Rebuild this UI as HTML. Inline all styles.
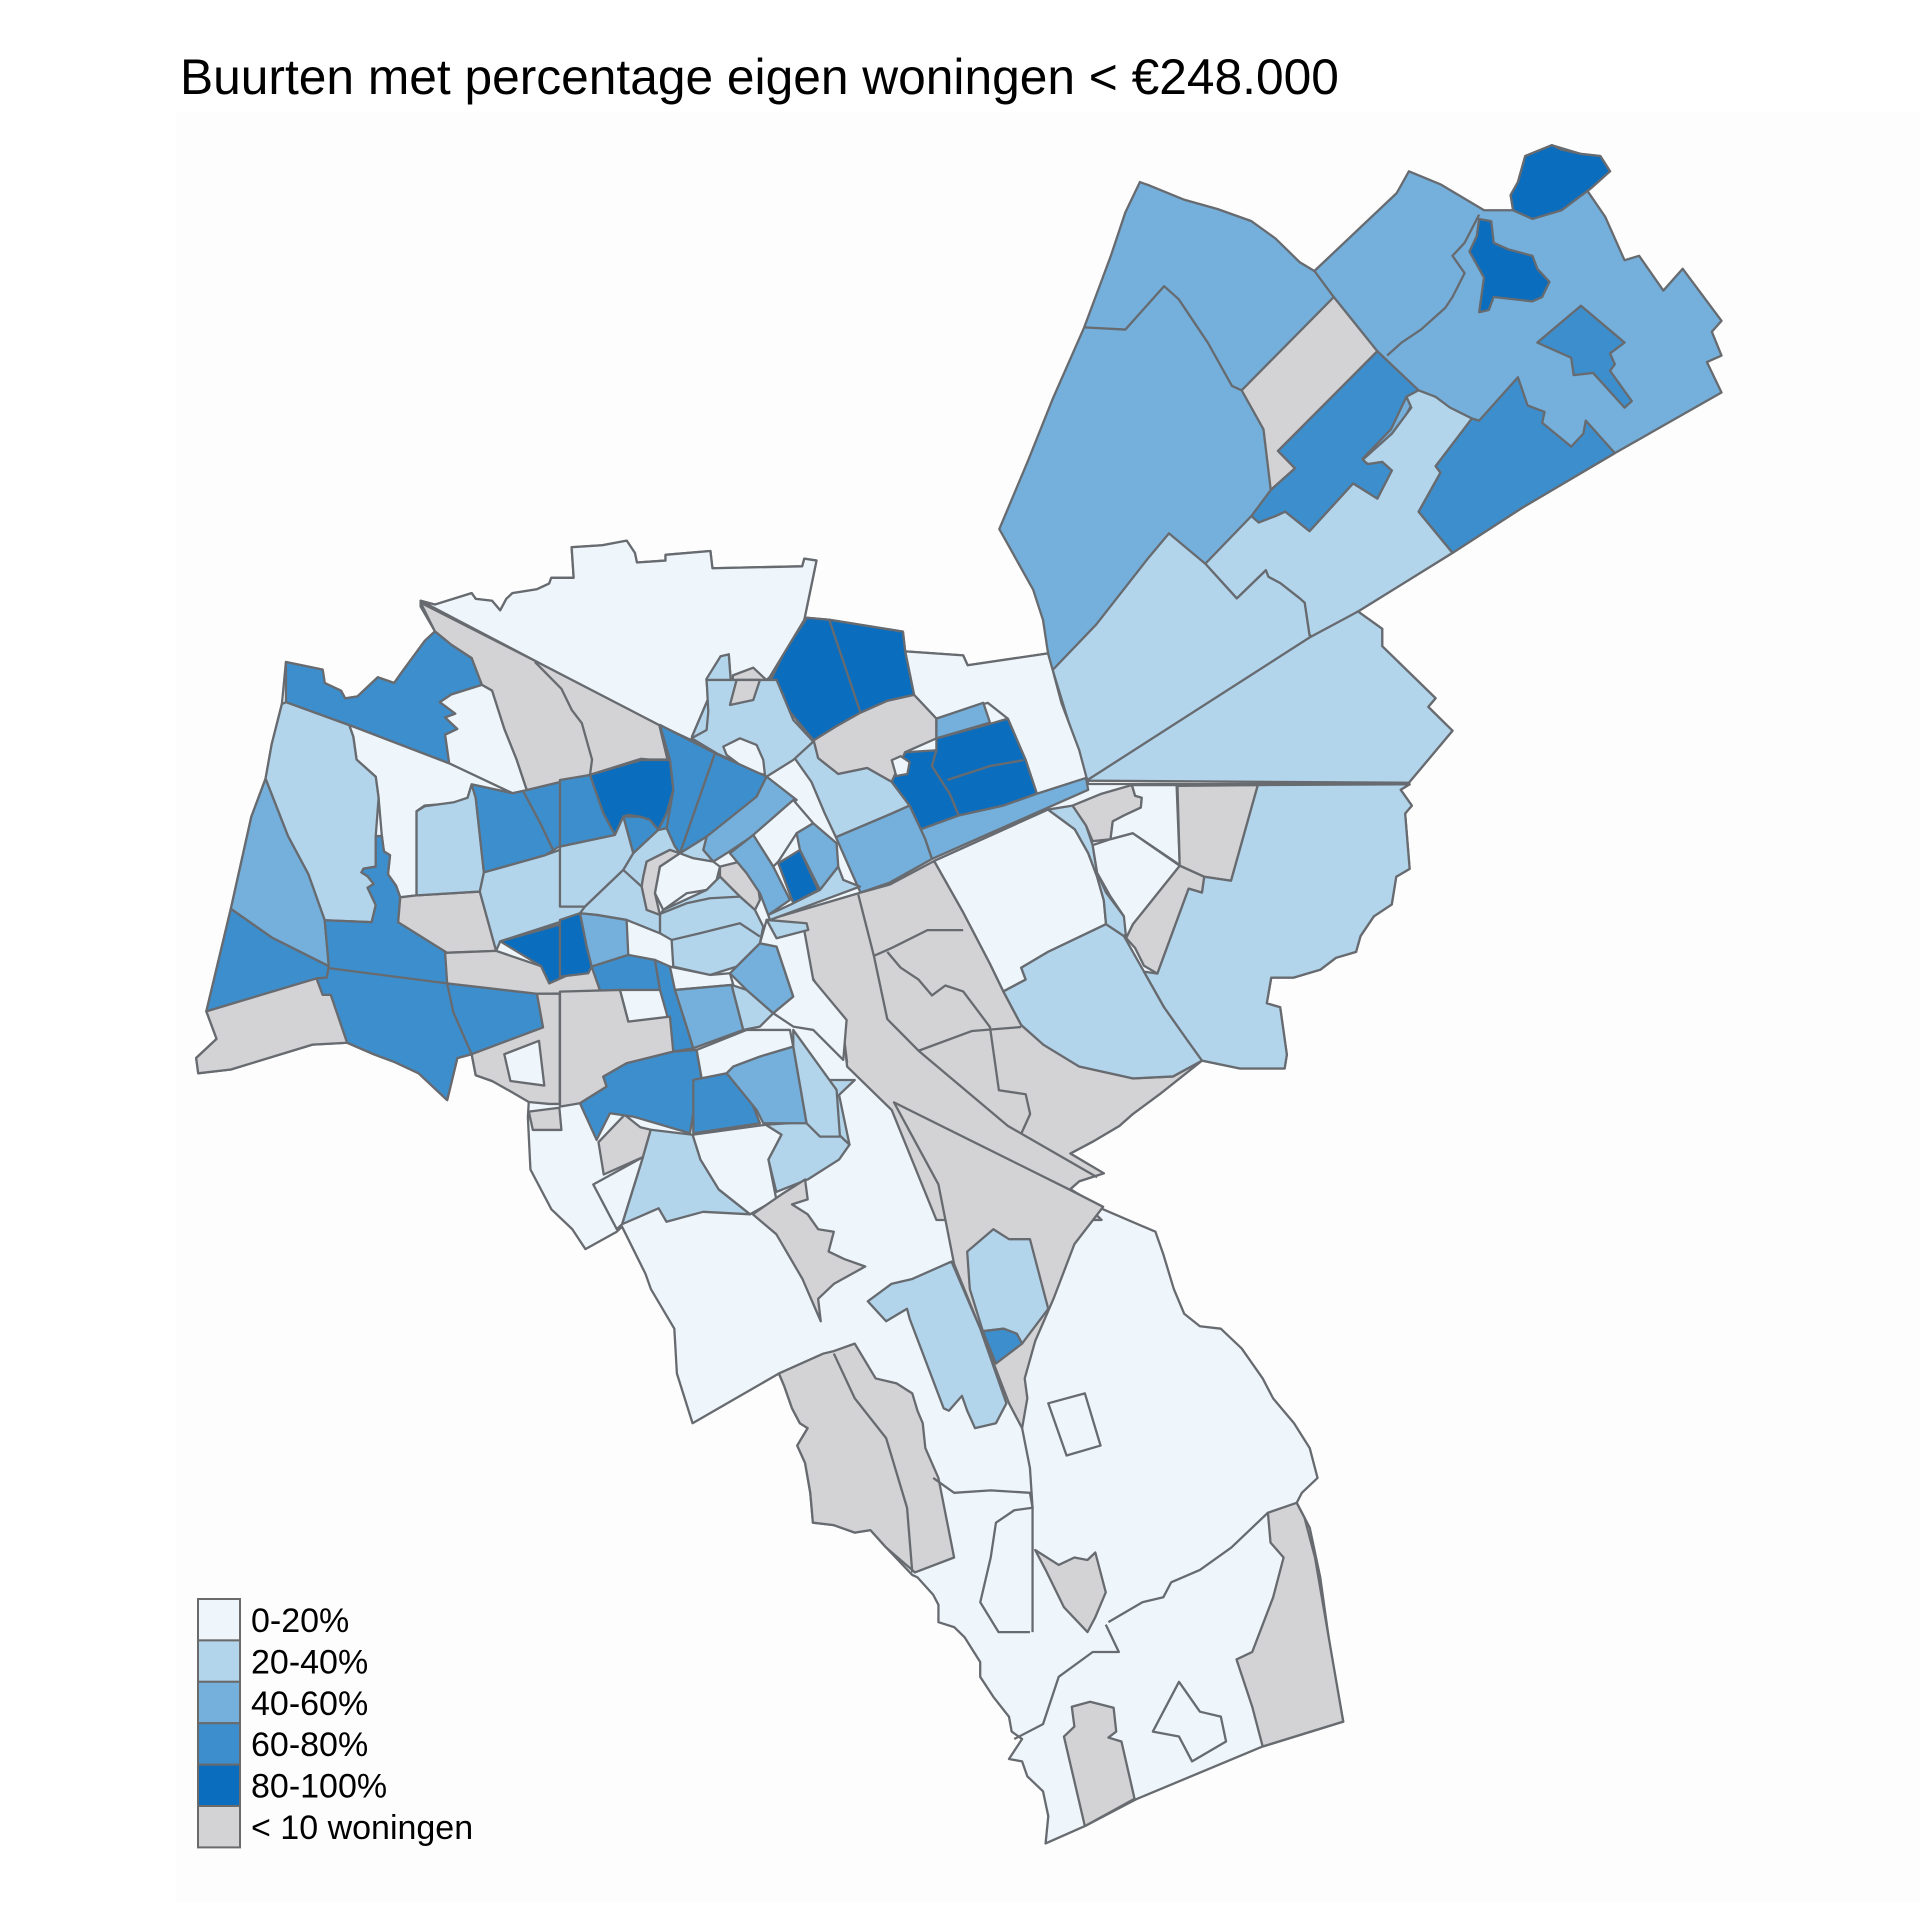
<!DOCTYPE html>
<html><head><meta charset="utf-8">
<style>
html,body{margin:0;padding:0;background:#fff;}
body{width:1920px;height:1920px;position:relative;overflow:hidden;}
svg{position:absolute;left:0;top:0;}
.m polygon,.m polyline{vector-effect:non-scaling-stroke;stroke:#676b70;stroke-width:2.3;stroke-linejoin:round;}
.m polyline{fill:none;}
.a{fill:#eef6fc}.b{fill:#b3d5ec}.c{fill:#74b0db}.d{fill:#3d8ecd}.e{fill:#0b6dbd}.g{fill:#d3d2d5}
</style></head><body>
<svg width="1920" height="1920" viewBox="0 0 1920 1920"><rect x="176" y="112" width="1744" height="1790" fill="#fdfdfd"/></svg>

<svg class="m" width="1920" height="1920" viewBox="0 0 1568 1568">
<!-- central + south silhouette -->
<polygon class="a" points="343.5,490.6 355.2,493.8 385.2,484.4 388.5,489.1 401.8,490.6 408.5,498.4 413.5,489.1 418.5,484.4 438.5,481.2 448.5,476.6 450.2,471.9 468.5,471.9 466.8,446.9 491.8,445.3 511.8,441.6 518.5,451.6 520.2,459.4 543.5,457.8 543.5,453.1 580.2,450 581.8,464.1 655.2,462.5 656.8,456.2 666.8,457.8 656.8,506.3 659,504.5 677.2,506.1 737.4,515.8 739.2,532 786.6,535.2 790.2,543.3 855.9,533.6 859.5,546.5 866.8,574 881.4,612.7 888.7,640.2 1151.2,640.5 1143.9,645 1153,657.9 1147.5,664.4 1151.2,709.6 1140.2,716 1136.6,738.6 1122,748.3 1111.1,764.5 1107.4,777.4 1091,782.2 1078.3,791.9 1056.4,798.4 1038.2,798.4 1034.5,819.4 1045.5,822.6 1050.9,861.3 1049.1,872.6 1012.6,872.6 981.6,866.2 947,893.6 925.1,909.8 914.2,919.5 892.3,932.4 874.1,942.1 901.4,958.2 881.4,964.7 874.1,971.1 900.9,987.6 943.6,1005.9 950,1024.2 958.6,1052.6 967.1,1072.9 979.9,1083.1 997,1085.1 1014.1,1101.3 1031.2,1125.7 1039.7,1142 1056.8,1162.3 1069.6,1182.6 1076,1207 1063.2,1219.1 1059,1227.3 1069.6,1247.6 1078.2,1288.2 1086.7,1349.1 1097,1406 1031.2,1426.3 928.7,1469 886,1491.3 853.9,1505.5 856.1,1483.2 851.8,1462.9 839,1450.7 834.7,1438.5 824,1436.5 834.7,1420.2 826.2,1414.1 824,1402 811.2,1385.7 800.5,1369.4 800.5,1357.3 787.7,1337 779.2,1328.8 766.4,1324.8 766.4,1310.6 762.1,1302.4 749.3,1288.2 745,1286.2 723.7,1263.8 710.9,1249.6 698,1251.6 681,1245.5 663.9,1243.5 661.7,1219.1 657.5,1194.8 651.1,1180.6 659.6,1166.3 653.2,1162.3 646.8,1150.1 640.4,1131.8 636.1,1121.7 565.6,1162.3 552.8,1121.7 550.7,1085.1 531.5,1052.6 527.2,1040.4 508,1001.8 503.7,1005.9 478.1,1020.1 467.4,1003.9 450.3,987.6 433.2,955.1 431.1,912.5 431.8,900 421.8,892.2 401.8,882.8 388.5,878.1 385.2,861 373.5,864.1 365.2,898.4 341.9,876.5 321.9,867.2 305.2,861 283.5,851.6 255.2,853.1 188.5,873.4 161.9,876.5 160.2,864 176.9,848.4 168.5,825.9 188.5,742.2 205.2,667.2 216.9,635.9 221.9,607.8 230.2,575 233.5,540.6 263.5,546.9 265.2,557.8 278.5,564.1 281.9,570.3 291.9,568.8 308.5,553.1 321.9,557.8 328.5,548.4 346.9,523.4 355.2,515.6 343.5,495.3"/>
<!-- NE lobe -->
<polygon class="c" points="857.7,545.4 851.8,506.4 843.8,481.7 824,446.2 816.1,432.1 839.9,375.4 859.7,325.8 885.4,267.4 897.3,235.5 907.2,208.9 919,173.5 930.9,148.7 938.8,151.5 966.5,162.9 994.2,170.7 1022,180.6 1041.7,194.8 1061.5,214.2 1073.4,221.3 1140.7,157.6 1150.6,139.9 1176.3,150.5 1212,171.7 1235.7,171.7 1233.7,159.3 1239.7,148.7 1245.6,127.5 1267.4,118.6 1291.1,125.7 1307,127.5 1314.9,139.9 1295.1,154 1310.9,177 1326.7,212.5 1338.6,208.9 1358.4,237.3 1374.2,219.5 1405.9,262 1398,270.9 1405.9,290.4 1394,295.7 1405.9,320.5 1318.8,370.1 1243.6,414.4 1186.2,451.5 1109,499.4 1128.8,513.5 1128.8,527.7 1172.4,570.2 1166.4,577.3 1186.2,596.8 1150.6,639.2 887.4,637.5"/>

<!-- Z4 frame -->
<g transform="translate(800.3,106.2) scale(0.3958,0.3542)">
<polyline points="215,455 300,460 380,360 410,390 470,490 520,590 540,600"/>
<polyline points="690,325 730,385"/>
<polyline points="1030,195 1000,260 975,290 1000,330 975,385 960,410 910,460 870,490 840,520"/>
<polygon class="g" points="730,385 820,510 615,740 650,780 600,830 585,690 540,600"/>
<polygon class="d" points="820,510 905,600 880,615 890,640 850,700 790,760 800,770 830,765 850,785 820,850 770,815 680,925 630,880 610,890 575,905 560,890 600,830 650,780 615,740"/>
<polygon class="c" points="880,615 890,635 858,700 800,765 790,757 848,690"/>
<polygon class="e" points="1125,60 1180,35 1200,45 1240,55 1280,60 1300,95 1260,135 1200,185 1140,205 1100,185 1095,150 1110,120"/>
<polygon class="e" points="1030,205 1055,210 1060,260 1090,275 1140,290 1150,320 1175,350 1160,385 1140,395 1060,385 1050,415 1030,420 1040,340 1010,280 1025,245"/>
<polygon class="d" points="1150,490 1240,405 1330,490 1300,515 1310,540 1300,555 1345,625 1330,640 1265,560 1225,565 1220,525 1170,500"/>
<polygon class="d" points="1110,570 1130,635 1165,650 1160,675 1220,730 1245,700 1250,670 1310,745 1120,870 975,975 905,880 950,790 940,775 1015,665 1030,670"/>
<polygon class="b" points="905,600 940,615 970,640 1015,665 940,775 950,790 905,880 975,975 780,1110 690,1170 680,1165 670,1090 660,1080 620,1045 595,1030 590,1015 530,1080 465,1000 560,890 575,905 610,890 630,880 680,925 770,815 820,850 850,785 830,765 800,770 790,760 850,700 890,640 880,615"/>
<polygon class="b" points="150,1245 240,1140 345,990 390,930 465,1000 530,1080 590,1015 595,1030 620,1045 660,1080 670,1090 680,1165 690,1170 220,1500"/>
<polygon class="b" points="680,1170 780,1110 830,1150 830,1190 940,1310 925,1330 975,1385 885,1505 220,1500"/>
</g>

<!-- Z6 frame -->
<g transform="translate(604.3,490) scale(0.3646,0.3229)">
<polygon class="a" points="370,130 500,140 510,165 690,135 700,175 720,260 760,380 780,465 665,490 640,405 600,300 555,260 440,300 390,240"/>
<polygon class="e" points="150,45 200,50 365,80 370,130 390,240 330,255 270,285 215,320 165,355 110,280 95,235 70,200 100,130"/>
<polyline points="200,50 270,285"/>
<polygon class="g" points="165,355 215,320 270,285 330,255 390,240 440,300 440,350 370,385 340,460 285,425 220,440 175,400"/>
<polygon class="b" points="175,400 220,440 285,425 340,460 380,520 330,545 215,600 190,540 160,460 110,380 165,355"/>
<polygon class="c" points="440,300 545,260 560,310 440,350"/>
<polygon class="e" points="370,385 440,380 430,420 470,490 490,545 405,580 380,520 340,460"/>
<polygon class="e" points="440,350 555,315 600,300 640,405 665,490 590,520 490,545 470,490 430,420 440,380"/>
<polyline points="465,455 560,420 635,405"/>
<polygon class="a" points="340,405 360,395 380,410 375,440 350,445"/>
<polygon class="c" points="405,580 490,545 590,520 665,490 775,450 780,480 690,525 430,655 415,605"/>
<polygon class="c" points="215,600 330,545 380,520 405,580 415,605 430,655 335,715 270,740"/>
<polygon class="g" points="270,740 335,720 435,660 500,790 560,920 590,990 630,1075 680,1125 760,1180 880,1210 970,1205 1035,1165 940,1250 880,1300 850,1330 790,1370 740,1400 815,1450 760,1470 740,1490 810,1568 440,1568 340,1290 240,1180 230,1080 165,960 100,870 60,810"/>
<polyline points="265,745 300,900 330,1060 400,1140 600,1330 800,1460"/>
<polyline points="300,900 340,880 420,835 500,835"/>
<polyline points="330,890 360,930 400,960 430,1000 460,975 500,990 560,1080 570,1160 580,1240 640,1250 650,1300 630,1350"/>
<polyline points="400,1140 520,1090 630,1080"/>
<polyline points="230,1080 240,1170"/>
<polygon class="a" points="435,660 690,530 750,580 780,640 800,700 815,760 820,820 690,890 630,930 640,960 590,990 560,920 500,790"/>
<polygon class="b" points="590,990 640,960 630,930 690,890 820,820 860,850 905,940 950,1030 1000,1110 1035,1165 970,1205 880,1210 760,1180 680,1125 630,1075"/>
<polygon class="b" points="690,530 745,520 775,570 790,620 800,690 820,740 860,800 870,840 860,850 820,820 815,760 800,700 780,640 750,580"/>
<polygon class="g" points="745,520 810,490 878,468 885,495 900,500 898,525 860,545 835,560 830,605 790,610 775,570"/>
<polygon class="a" points="878,468 978,468 985,670 880,590 830,605 835,560 860,545 898,525 900,500 885,495"/>
<polygon class="g" points="980,470 1160,468 1100,710 1040,700 985,672"/>
<polygon class="g" points="985,672 1040,700 1035,740 1005,730 935,945 905,925 885,880 865,855 880,820"/>
<polygon class="a" points="790,620 830,605 880,590 985,672 880,820 865,855 860,800 830,750 800,690"/>
<polygon class="b" points="1160,468 1500,466 1480,480 1505,520 1490,540 1500,680 1470,700 1460,770 1420,800 1390,850 1380,890 1335,905 1300,935 1240,955 1190,955 1180,1020 1210,1030 1225,1150 1220,1185 1120,1185 1035,1165 1000,1110 950,1030 905,940 935,945 1005,730 1035,740 1040,700 1100,710"/>
</g>

<!-- Z7 frame -->
<g transform="translate(424.7,882) scale(0.4271,0.4062)">
<polygon class="g" points="150,125 200,70 230,95 250,100 235,155 160,190"/>
<polygon class="b" points="235,155 250,100 330,110 345,160 380,220 440,270 350,265 280,285 265,258 195,290"/>
<polygon class="a" points="140,210 235,155 195,290 185,300"/>
<polygon class="a" points="330,110 470,90 500,110 475,160 490,240 440,270 380,220 345,160"/>
<polygon class="b" points="470,90 540,85 590,90 630,130 610,160 550,200 490,225 475,160 500,110"/>
<polygon class="b" points="540,0 640,0 610,30 630,130 590,90 550,85"/>
<polygon class="g" points="445,270 500,230 545,200 550,240 520,250 550,270 570,300 600,305 590,345 620,360 660,375 600,410 570,440 575,485 540,400 490,310"/>
<polygon class="g" points="715,45 1050,220 1115,255 1060,330 1020,440 985,525 965,600 970,640 960,700 935,650 880,500 830,370 800,210"/>
<polygon class="b" points="855,345 905,300 935,320 975,320 1010,460 960,530 925,500 885,505 860,420"/>
<polygon class="d" points="885,505 925,500 950,510 960,530 910,570"/>
<polygon class="b" points="750,400 825,365 880,500 930,650 910,690 870,700 855,665 845,635 820,665 810,660 745,480 740,460 700,485 665,445 710,410"/>
<polygon class="g" points="495,590 580,550 600,545 640,530 680,600 720,610 750,630 760,665 770,690 775,740 800,800 830,960 755,990 700,940 670,905 640,910 600,895 560,890 555,830 545,770 530,735 550,700 535,690 520,660 505,615"/>
<polyline points="600,550 640,640 700,720 740,860 750,990"/>
<polygon class="g" points="985,945 1030,975 1060,960 1085,965 1100,950 1120,1030 1100,1080 1085,1110 1040,1060 1005,985"/>
<polygon class="g" points="1430,870 1485,850 1500,880 1520,960 1574,1290 1420,1340 1400,1260 1370,1165 1400,1150 1440,1040 1460,960 1435,930"/>
<polygon class="g" points="1040,1320 1060,1300 1055,1260 1090,1250 1135,1262 1140,1310 1125,1322 1150,1330 1175,1445 1080,1500"/>
<polygon class="a" points="1010,650 1080,630 1110,735 1045,755"/>
<polyline points="790,800 830,830 900,825 975,830 980,860 945,865 910,890 900,960 880,1050 915,1110 975,1110"/>
<polyline points="960,700 975,780 980,860 980,1110"/>
<polyline points="1125,1090 1190,1050 1230,1040 1245,1010 1300,985 1360,940 1430,870"/>
<polyline points="945,1325 1000,1295 1030,1200 1095,1150 1145,1150 1120,1095"/>
<polygon class="a" points="1210,1310 1260,1210 1300,1270 1340,1280 1350,1330 1285,1370 1260,1320"/>
</g>

<!-- Z5 frame -->
<g transform="translate(155.2,432.8) scale(0.3333,0.3125)">
<polygon class="g" points="565,190 600,265 640,300 690,335 715,405 740,420 770,520 800,600 825,680 980,640 1105,600 1170,600 1150,510 860,350"/>
<polyline points="845,345 910,415 935,470 960,505 985,600 980,640"/>
<polygon class="d" points="235,345 325,365 330,400 370,420 380,440 410,435 460,385 500,400 520,370 575,290 600,265 640,300 690,335 715,405 640,430 612,450 650,480 625,490 655,520 625,535 635,610 390,510 235,450"/>
<polygon class="a" points="612,450 640,430 715,405 740,420 770,520 800,600 825,680 790,688 635,610 625,535 655,520 625,490 650,480"/>
<polygon class="a" points="390,510 635,610 790,688 690,665 680,700 640,715 575,720 555,735 555,955 515,960 505,930 485,900 490,850 475,840 470,800 462,700 455,645 408,600 400,540"/>
<polygon class="b" points="235,450 390,510 400,540 408,600 455,645 462,700 455,800 455,880 425,885 420,895 435,905 450,925 435,935 455,980 445,1025 330,1020 290,900 240,800 185,650 200,560 225,455"/>
<polygon class="c" points="185,650 240,800 290,900 330,1020 340,1140 200,1065 100,990 150,750"/>
<polygon class="d" points="100,990 200,1065 340,1140 335,1170 310,1172 40,1258"/>
<polygon class="g" points="40,1258 310,1172 325,1215 345,1215 385,1340 300,1345 100,1410 20,1420 15,1380 65,1330"/>
<polygon class="d" points="330,1020 445,1025 455,980 435,935 450,925 435,905 420,895 425,885 455,880 455,800 470,800 475,840 490,850 485,900 505,930 515,960 510,1025 630,1105 630,1185 850,1212 865,1300 690,1370 655,1380 630,1490 560,1420 500,1390 450,1370 385,1340 345,1215 325,1215 310,1172 335,1170 340,1140"/>
<polyline points="340,1145 630,1185 850,1212"/>
<polyline points="630,1185 645,1260 690,1370"/>
<polygon class="g" points="515,960 555,955 710,945 750,1100 630,1105 510,1025"/>
<polygon class="b" points="555,735 575,722 645,712 680,700 690,665 700,700 720,895 710,945 555,955"/>
<polygon class="d" points="690,665 790,688 825,680 980,640 1025,790 900,830 870,850 720,895 700,700"/>
<polyline points="815,680 860,770 900,860 940,940 975,1010"/>
<polygon class="e" points="980,640 1105,598 1170,605 1185,660 1165,740 1140,780 1105,755 1070,745 1050,800 1025,790"/>
<polygon class="d" points="1150,510 1290,580 1410,645 1300,760 1200,835 1140,780 1165,740 1185,660 1170,600"/>
<polygon class="b" points="720,895 870,850 1025,790 1085,845 1040,900 975,1000 945,1025 920,1020 760,1075 750,1100 710,945"/>
<polygon class="e" points="760,1075 910,1030 920,1020 945,1025 975,1140 880,1185 860,1140"/>
<polygon class="g" points="625,1105 750,1100 860,1140 880,1185 975,1140 1000,1150 1045,1210 850,1212 630,1185"/>
<polygon class="g" points="690,1370 865,1300 850,1212 906,1212 906,1500 880,1500 830,1495 790,1470 740,1440 700,1425"/>
<polygon class="a" points="770,1370 855,1335 868,1452 785,1440"/>
<polygon class="g" points="830,1520 905,1510 910,1568 840,1568"/>
<polygon class="a" points="565,185 600,195 690,165 700,180 740,185 760,210 775,180 790,165 850,155 880,140 885,125 940,125 935,45 1010,40 1070,28 1090,60 1095,85 1165,80 1165,65 1275,55 1280,100 1500,95 1505,75 1535,80 1505,235 1420,385 1330,465 1320,325 1270,385 1270,440 1230,540 1290,580 1150,510 860,350"/>
<polygon class="b" points="1230,540 1270,440 1265,390 1300,330 1320,325 1330,465 1420,390 1450,440 1480,520 1420,600 1410,645 1290,580"/>
<polygon class="g" points="1330,380 1380,360 1415,395 1330,465"/>
</g>

<!-- Z8 frame (old town) -->
<g transform="translate(457.3,555.3) scale(0.2722)">
<polygon class="b" points="395,175 440,150 445,95 440,0 650,0 700,120 760,185 700,240 620,290 470,220"/>
<polygon class="g" points="510,75 580,60 600,0 530,0"/>
<polygon class="a" points="490,200 540,175 590,195 610,240 615,285 560,270 500,225"/>
<polygon class="d" points="300,135 465,220 360,520 345,500 320,445 340,330 330,240"/>
<polygon class="d" points="465,220 620,290 590,350 520,410 440,470 360,520"/>
<polygon class="e" points="90,285 245,240 330,240 340,330 320,400 295,450 270,420 240,410 205,405 190,410 165,465 130,400"/>
<polygon class="d" points="0,300 90,285 130,400 165,465 0,500"/>
<polygon class="d" points="190,410 240,410 270,420 295,450 220,520"/>
<polygon class="b" points="0,500 165,465 190,410 220,520 190,570 75,680 0,680"/>
<polygon class="c" points="440,470 590,350 620,290 710,360 620,440 500,520 460,545 430,510"/>
<polygon class="b" points="190,570 220,520 295,450 320,445 345,500 360,520 440,470 430,510 460,545 400,535 330,510 260,545 250,590 245,620 210,620"/>
<polygon class="g" points="250,590 260,545 330,510 360,520 300,560 285,640 300,705 260,690 245,620"/>
<polygon class="g" points="480,560 540,545 590,590 600,660 585,690 540,650 480,590"/>
<polygon class="a" points="285,640 300,560 360,520 400,535 460,545 480,560 470,600 440,630 380,640 310,690"/>
<polygon class="b" points="310,690 440,630 480,590 540,650 585,690 610,740 600,790 530,860 450,885 340,860 335,780 300,760 300,705"/>
<polyline points="305,700 380,670 450,655 540,650"/>
<polyline points="335,780 420,760 540,730 600,770"/>
<polygon class="b" points="75,680 190,570 245,620 260,690 300,705 300,760 200,720 110,705 60,700"/>
<polygon class="c" points="60,700 110,705 200,720 205,825 95,860 80,800"/>
<polygon class="e" points="0,720 60,700 80,800 95,860 85,880 0,890"/>
<polygon class="d" points="95,860 205,825 285,840 300,930 180,930 205,1025 160,1030 130,960"/>
<polygon class="d" points="285,840 330,860 345,930 380,1040 400,1105 340,1115 320,1000 300,930"/>
<polygon class="a" points="330,860 450,885 510,880 520,915 345,930"/>
<polygon class="c" points="345,930 515,915 550,1050 400,1105 380,1040"/>
<polygon class="b" points="515,915 560,930 640,1000 600,1040 550,1050"/>
<polygon class="c" points="510,880 600,790 650,800 700,950 640,1000 560,930"/>
<polygon class="a" points="600,790 620,720 730,735 760,900 860,1020 850,1140 760,1050 700,1040 640,1000 700,950 650,800"/>
<polygon class="b" points="620,720 740,730 745,750 650,775"/>
<polygon class="g" points="0,935 180,930 205,1025 330,1010 340,1115 200,1150 130,1190 140,1220 60,1270 0,1280"/>
<polygon class="d" points="60,1270 140,1220 130,1190 200,1150 340,1115 410,1110 425,1200 400,1300 390,1360 220,1310 150,1300 110,1380"/>
<polygon class="d" points="400,1200 500,1180 560,1230 600,1330 400,1360"/>
<polygon class="a" points="410,1110 560,1050 690,1050 700,1100 600,1130 520,1160 500,1180 425,1195"/>
<polygon class="c" points="500,1180 520,1160 600,1130 700,1100 740,1330 610,1330 590,1290"/>
<polygon class="b" points="700,1100 700,1050 830,1230 840,1370 780,1370 740,1330"/>
<polygon class="a" points="580,465 700,360 760,430 710,460 655,545 640,560"/>
<polygon class="c" points="510,520 580,465 640,560 690,660 625,705 600,640 560,580"/>
<polygon class="e" points="655,550 720,510 775,630 700,670"/>
<polygon class="c" points="710,460 760,430 830,490 835,560 780,630 720,510"/>
<polygon class="b" points="700,670 780,630 835,560 850,600 900,620 630,720 625,705"/>
</g>
</svg>

<svg width="1920" height="1920" viewBox="0 0 1920 1920" style="font-family:'Liberation Sans',Arial,sans-serif">
<text x="180" y="94" font-size="49.7" fill="#000">Buurten met percentage eigen woningen &lt; €248.000</text>
<g stroke="#6a6a6a" stroke-width="2">
<rect x="198" y="1599" width="42" height="41.4" fill="#eef6fc"/>
<rect x="198" y="1640.4" width="42" height="41.4" fill="#b3d5ec"/>
<rect x="198" y="1681.8" width="42" height="41.4" fill="#74b0db"/>
<rect x="198" y="1723.2" width="42" height="41.4" fill="#3d8ecd"/>
<rect x="198" y="1764.6" width="42" height="41.4" fill="#0b6dbd"/>
<rect x="198" y="1806" width="42" height="41.4" fill="#d3d2d5"/>
</g>
<g font-size="34" fill="#000">
<text x="251" y="1632">0-20%</text>
<text x="251" y="1673.4">20-40%</text>
<text x="251" y="1714.8">40-60%</text>
<text x="251" y="1756.2">60-80%</text>
<text x="251" y="1797.6">80-100%</text>
<text x="251" y="1839">&lt; 10 woningen</text>
</g>
</svg>
</body></html>
